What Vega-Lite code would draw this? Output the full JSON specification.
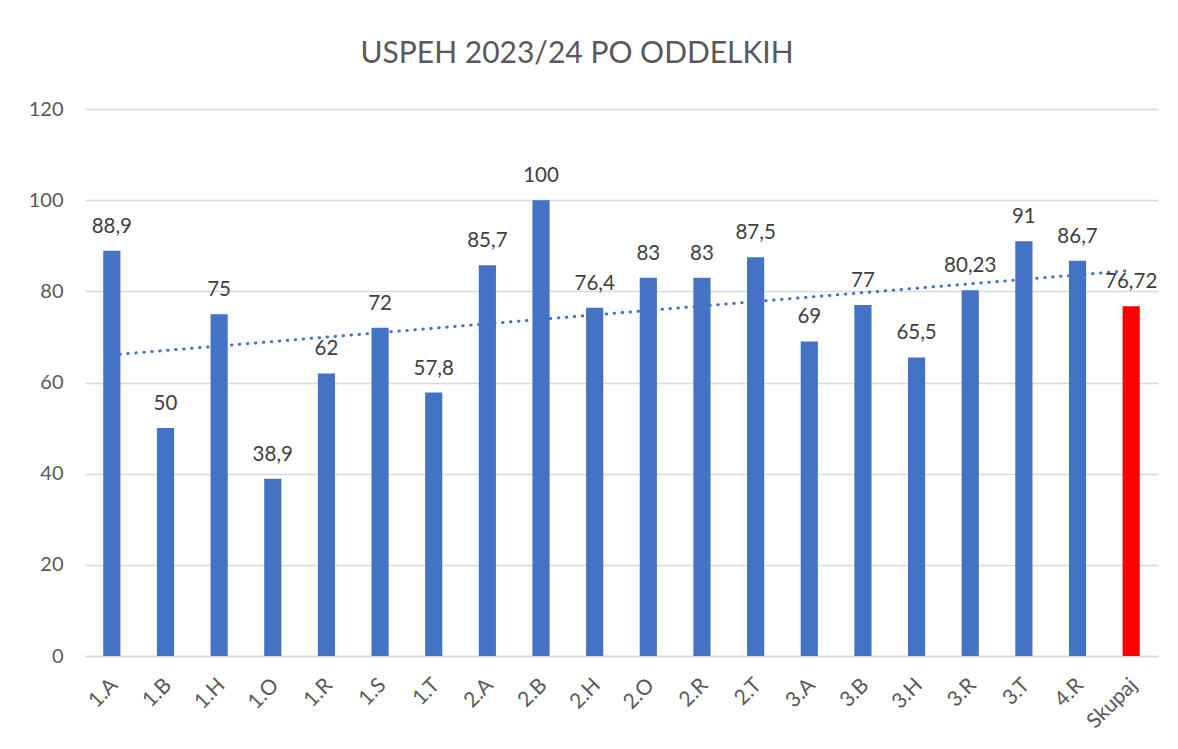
{
  "$schema": "https://vega.github.io/schema/vega-lite/v6.json",
  "autosize": "none",
  "width": 1073,
  "height": 547,
  "padding": {"left": 85, "top": 109, "right": 20, "bottom": 93},
  "background": "#FFFFFF",
  "title": {
    "text": "USPEH 2023/24 PO ODDELKIH",
    "font": "Lato",
    "fontSize": 30,
    "fontWeight": "normal",
    "color": "#595959",
    "anchor": "middle",
    "frame": "bounds",
    "dx": -16,
    "offset": 30
  },
  "datasets": {
    "bars": [
      {"cat": "1.A", "value": 88.9, "label": "88,9"},
      {"cat": "1.B", "value": 50, "label": "50"},
      {"cat": "1.H", "value": 75, "label": "75"},
      {"cat": "1.O", "value": 38.9, "label": "38,9"},
      {"cat": "1.R", "value": 62, "label": "62"},
      {"cat": "1.S", "value": 72, "label": "72"},
      {"cat": "1.T", "value": 57.8, "label": "57,8"},
      {"cat": "2.A", "value": 85.7, "label": "85,7"},
      {"cat": "2.B", "value": 100, "label": "100"},
      {"cat": "2.H", "value": 76.4, "label": "76,4"},
      {"cat": "2.O", "value": 83, "label": "83"},
      {"cat": "2.R", "value": 83, "label": "83"},
      {"cat": "2.T", "value": 87.5, "label": "87,5"},
      {"cat": "3.A", "value": 69, "label": "69"},
      {"cat": "3.B", "value": 77, "label": "77"},
      {"cat": "3.H", "value": 65.5, "label": "65,5"},
      {"cat": "3.R", "value": 80.23, "label": "80,23"},
      {"cat": "3.T", "value": 91, "label": "91"},
      {"cat": "4.R", "value": 86.7, "label": "86,7"},
      {"cat": "Skupaj", "value": 76.72, "label": "76,72"}
    ],
    "trend": [
      {"cat": "1.A", "trend": 66.06},
      {"cat": "Skupaj", "trend": 84.58}
    ]
  },
  "encoding": {
    "x": {
      "field": "cat",
      "type": "nominal",
      "sort": null,
      "scale": {
        "domain": ["1.A","1.B","1.H","1.O","1.R","1.S","1.T","2.A","2.B","2.H","2.O","2.R","2.T","3.A","3.B","3.H","3.R","3.T","4.R","Skupaj"],
        "paddingInner": 0.68,
        "paddingOuter": 0.34
      },
      "axis": {
        "title": null,
        "labelAngle": -45,
        "labelFont": "Lato",
        "labelFontSize": 21,
        "labelColor": "#595959",
        "labelPadding": 18,
        "labelOffset": -5,
        "ticks": false,
        "domainColor": "#D9D9D9",
        "domainWidth": 1.5,
        "grid": false
      }
    }
  },
  "layer": [
    {
      "data": {"name": "trend"},
      "mark": {"type": "line", "color": "#4472C4", "strokeWidth": 3, "strokeCap": "round", "strokeDash": [0.5, 7.5]},
      "encoding": {
        "y": {"field": "trend", "type": "quantitative", "scale": {"domain": [0, 120]}}
      }
    },
    {
      "data": {"name": "bars"},
      "mark": {"type": "bar"},
      "encoding": {
        "y": {
          "field": "value",
          "type": "quantitative",
          "scale": {"domain": [0, 120]},
          "axis": {
            "title": null,
            "values": [0, 20, 40, 60, 80, 100, 120],
            "labelFont": "Lato",
            "labelFontSize": 20,
            "labelColor": "#595959",
            "labelPadding": 22,
            "domain": false,
            "ticks": false,
            "grid": true,
            "gridColor": "#D9D9D9",
            "gridWidth": 1.3
          }
        },
        "color": {
          "condition": {"test": "datum.cat === 'Skupaj'", "value": "#FF0000"},
          "value": "#4472C4"
        }
      }
    },
    {
      "data": {"name": "bars"},
      "mark": {"type": "text", "font": "Lato", "fontSize": 20.5, "color": "#404040", "baseline": "alphabetic", "dy": -18},
      "encoding": {
        "y": {"field": "value", "type": "quantitative"},
        "text": {"field": "label", "type": "nominal"}
      }
    }
  ],
  "config": {
    "view": {"stroke": null}
  }
}
